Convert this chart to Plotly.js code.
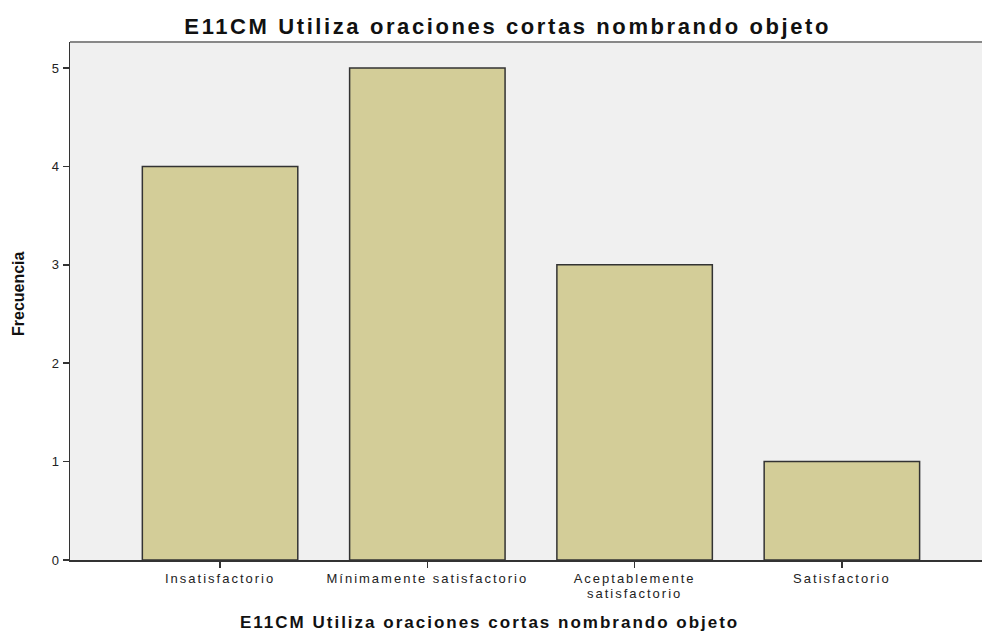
<!DOCTYPE html>
<html><head><meta charset="utf-8">
<script src="https://cdn.plot.ly/plotly-3.0.1.min.js"></script>
<style>
html,body{margin:0;padding:0;background:#fff}
#c{width:982px;height:631px}
#c .xtick text{letter-spacing:2px}
#c .ytick text{letter-spacing:1px}
#c .gtitle{letter-spacing:2.6px}
#c .annotation-text.xt{letter-spacing:2px}
</style>
</head><body><div id="c"></div>
<script>
const categories = ["Insatisfactorio", "Mínimamente satisfactorio", "Aceptablemente<br>satisfactorio", "Satisfactorio"];
const frecuencia = [4, 5, 3, 1];
const yTicks = [0, 1, 2, 3, 4, 5];
const titleText = "E11CM Utiliza oraciones cortas nombrando objeto";
const yTitleText = "Frecuencia";

const trace = {
  type: "bar",
  x: [0, 1, 2, 3],
  y: frecuencia,
  width: 0.75,
  marker: {color: "#D3CD98", line: {color: "#333333", width: 1.5}},
  hoverinfo: "none"
};
const layout = {
  width: 982, height: 631,
  margin: {l: 70, r: 0, t: 42, b: 71},
  paper_bgcolor: "#ffffff",
  plot_bgcolor: "#F0F0F0",
  showlegend: false,
  title: {text: "<b>" + titleText + "</b>", x: 0.517, xanchor: "center", y: 0.958, yanchor: "middle",
          font: {family: "Liberation Sans, Arial", size: 22, color: "#111"}},
  xaxis: {
    range: [-0.724, 3.676], tickvals: [0, 1, 2, 3], ticktext: categories,
    showgrid: false, zeroline: false, showline: true, linecolor: "#333", linewidth: 1.5,
    ticks: "outside", ticklen: 6, tickcolor: "#333", tickwidth: 1.5,
    tickfont: {family: "Liberation Sans, Arial", size: 13, color: "#222"}
  },
  yaxis: {
    range: [0, 5.265], tickvals: yTicks, ticktext: yTicks.map(String),
    showgrid: false, zeroline: false, showline: true, linecolor: "#333", linewidth: 1.5,
    ticks: "outside", ticklen: 6, tickcolor: "#333", tickwidth: 1.5,
    tickfont: {family: "Liberation Sans, Arial", size: 13, color: "#222"}
  },
  annotations: [{
    text: "<b>" + yTitleText + "</b>", textangle: -90, showarrow: false,
    xref: "paper", yref: "paper", x: -0.057, y: 0.5135, xanchor: "center", yanchor: "middle",
    font: {family: "Liberation Sans, Arial", size: 16, color: "#111"}
  }, {
    text: "<b>" + titleText + "</b>", showarrow: false,
    xref: "paper", yref: "paper", x: 0.4605, y: -0.1216, xanchor: "center", yanchor: "middle",
    font: {family: "Liberation Sans, Arial", size: 17, color: "#111"}
  }],
  shapes: [{type: "line", xref: "paper", yref: "paper", x0: 0, x1: 1, y0: 1, y1: 1,
            line: {color: "#888", width: 2}}]
};
Plotly.newPlot("c", [trace], layout, {displayModeBar: false, staticPlot: true}).then(function () {
  document.querySelectorAll("#c .xtick text tspan.line").forEach(function (t) {
    if (t.getAttribute("dy") && t.getAttribute("dy") !== "0em") t.setAttribute("dy", "1.15em");
  });
  const anns = document.querySelectorAll("#c .annotation-text");
  if (anns.length > 1) anns[1].classList.add("xt");
});
</script></body></html>
